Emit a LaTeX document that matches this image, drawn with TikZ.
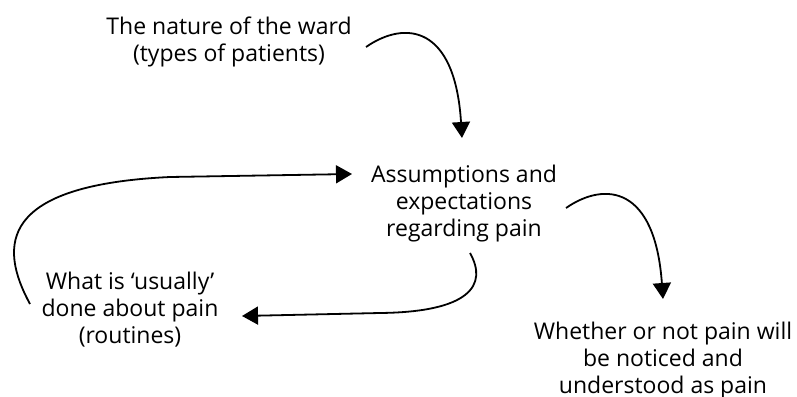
\documentclass[tikz,border=0pt]{standalone}
\usepackage{fontspec}
\setmainfont{Open Sans}
\usetikzlibrary{arrows.meta}
\begin{document}
\begin{tikzpicture}[x=1pt,y=-1pt,
  lbl/.style={align=center,inner sep=0pt,anchor=base,font=\fontsize{23}{27}\selectfont},
  conn/.style={line width=1.8pt,-{Triangle[length=16pt,width=18pt]}}]
\useasboundingbox (0,0) rectangle (797,396);
\node[lbl] (ward) at (229,62) {The nature of the ward\\(types of patients)};
\node[lbl] (assume) at (464,236) {Assumptions and\\expectations\\regarding pain};
\node[lbl] (routine) at (130,343) {What is ‘usually’\\done about pain\\(routines)};
\node[lbl] (notice) at (663,393) {Whether or not pain will\\be noticed and\\understood as pain};
\coordinate (a1s) at (366,47);
\coordinate (a1e) at (462,138);
\coordinate (a2s) at (30,304);
\coordinate (a2e) at (352,174);
\coordinate (a3s) at (470,253);
\coordinate (a3e) at (242,316);
\coordinate (a4s) at (566,208);
\coordinate (a4e) at (663,299);
\draw[conn] (a1s) .. controls (405,20) and (455,25) .. (a1e);
\draw[conn] (a2s) .. controls (-2,245) and (0,185) .. (170,177) -- (a2e);
\draw[conn] (a3s) .. controls (488,285) and (470,312) .. (380,313) -- (a3e);
\draw[conn] (a4s) .. controls (605,181) and (655,186) .. (a4e);
\end{tikzpicture}
\end{document}
